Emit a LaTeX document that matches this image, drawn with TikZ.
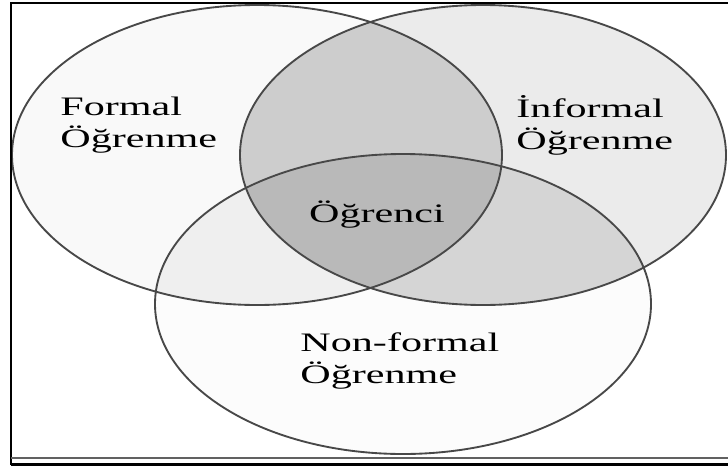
\documentclass[tikz,border=0pt]{standalone}
\usepackage{fontspec}
\setmainfont{Liberation Serif}
\usepackage{xcolor}
\definecolor{fillF}{HTML}{F9F9F9}
\definecolor{fillI}{HTML}{EBEBEB}
\definecolor{fillN}{HTML}{FCFCFC}
\definecolor{fillFI}{HTML}{CDCDCD}
\definecolor{fillFN}{HTML}{EFEFEF}
\definecolor{fillIN}{HTML}{D5D5D5}
\definecolor{fillAll}{HTML}{B9B9B9}
\definecolor{ringgray}{HTML}{484848}

\begin{document}
\begin{tikzpicture}[x=0.75pt,y=-0.75pt]
	\tikzset{
		ring/.style={draw=ringgray, line width=1.4pt},
		lbl/.style={font=\fontsize{20}{24}\selectfont, align=left, inner sep=0pt, xscale=1.58}
	}
	\useasboundingbox (0,0) rectangle (728,468);
	\coordinate (fc) at (257,155);
	\coordinate (ic) at (483,155);
	\coordinate (nc) at (403,304);
	\foreach \ctr/\rx/\col in {fc/245/fillF, ic/243/fillI, nc/248/fillN}
	{
		\fill[\col] (\ctr) ellipse [x radius=\rx, y radius=150];
	}
	% overlaps
	\begin{scope}
		\clip (ic) ellipse [x radius=243, y radius=150];
		\fill[fillIN] (nc) ellipse [x radius=248, y radius=150];
	\end{scope}
	\begin{scope}
		\clip (fc) ellipse [x radius=245, y radius=150];
		\fill[fillFI] (ic) ellipse [x radius=243, y radius=150];
		\fill[fillFN] (nc) ellipse [x radius=248, y radius=150];
		\clip (ic) ellipse [x radius=243, y radius=150];
		\fill[fillAll] (nc) ellipse [x radius=248, y radius=150];
	\end{scope}
	\foreach \ctr/\rx in {fc/245, ic/243, nc/248}
	{
		\draw[ring] (\ctr) ellipse [x radius=\rx, y radius=150];
	}
	% frame
	\draw[line width=2.2pt] (11,465) -- (11,3) -- (728,3);
	\draw[line width=2pt] (11,464.5) -- (728,464.5);
	\draw[line width=2pt, black!62] (11,458) -- (728,458);
	\node[lbl, anchor=west] (formal) at (60,125) {Formal\\Öğrenme};
	\node[lbl, anchor=west] (informal) at (516,125) {İnformal\\Öğrenme};
	\node[lbl, anchor=base] (ogrenci) at (377,222) {Öğrenci};
	\node[lbl, anchor=west] (nonformal) at (300,361) {Non-formal\\Öğrenme};
\end{tikzpicture}
\end{document}
